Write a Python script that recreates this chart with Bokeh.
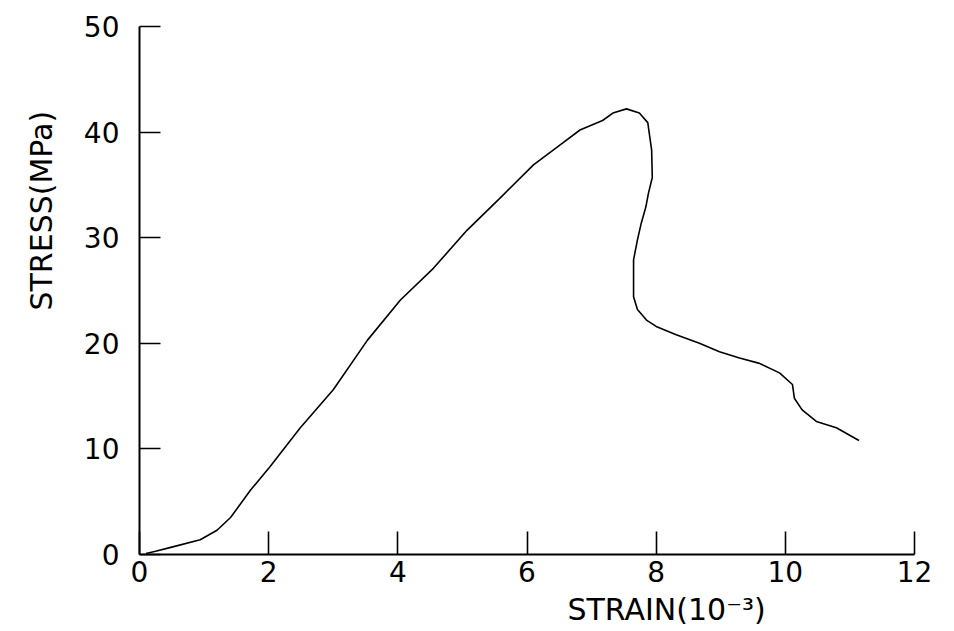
from bokeh.plotting import figure
from bokeh.models import Range1d, FixedTicker, Title
from bokeh.embed import file_html
from bokeh.resources import INLINE

strain = [0.1, 0.25, 0.5, 0.94, 1.2, 1.41, 1.72, 2.02, 2.49, 3.0, 3.53, 4.04, 4.55,
          5.07, 5.59, 6.1, 6.56, 6.82, 7.17, 7.33, 7.54, 7.74, 7.87, 7.93, 7.94, 7.88,
          7.84, 7.77, 7.71, 7.65, 7.65, 7.71, 7.85, 8.0, 8.31, 8.67, 8.98, 9.29, 9.6,
          9.91, 10.11, 10.14, 10.26, 10.48, 10.79, 11.14]
stress = [0.1, 0.3, 0.7, 1.4, 2.3, 3.5, 6.1, 8.3, 12.0, 15.6, 20.3, 24.1, 27.1,
          30.7, 33.8, 36.9, 39.0, 40.2, 41.1, 41.8, 42.2, 41.8, 40.9, 38.3, 35.7, 34.2,
          32.9, 31.4, 29.8, 27.9, 24.4, 23.2, 22.2, 21.6, 20.8, 20.0, 19.2, 18.6, 18.1,
          17.2, 16.1, 14.8, 13.7, 12.6, 12.0, 10.8]
x_ticks = [0, 2, 4, 6, 8, 10, 12]
y_ticks = [0, 10, 20, 30, 40, 50]
x_title = "STRAIN(10\u207b\u00b3)"
y_title = "STRESS(MPa)"

FONT = "DejaVu Sans"

p = figure(width=940, height=631, output_backend="svg", toolbar_location=None,
           x_range=Range1d(0, 12), y_range=Range1d(0, 50),
           min_border_left=139, min_border_top=26, min_border_right=26,
           min_border_bottom=76)
p.outline_line_color = None
p.xgrid.visible = False
p.ygrid.visible = False
p.background_fill_color = "white"
p.border_fill_color = "white"

p.line(strain, stress, line_color="black", line_width=1.6)

for ax, ticks, tin in ((p.xaxis, x_ticks, 23), (p.yaxis, y_ticks, 21)):
    ax.ticker = FixedTicker(ticks=ticks)
    ax.axis_line_width = 2
    ax.axis_line_color = "black"
    ax.major_tick_in = tin
    ax.major_tick_out = 0
    ax.major_tick_line_width = 1.6
    ax.major_tick_line_color = "black"
    ax.minor_tick_line_color = None
    ax.major_label_text_font = FONT
    ax.major_label_text_font_size = "28px"
    ax.major_label_text_color = "black"

p.xaxis.major_label_standoff = 6
p.yaxis.major_label_standoff = 20

p.add_layout(Title(text=x_title, align="left", offset=428, standoff=10,
                   text_font=FONT, text_font_size="30px", text_font_style="normal",
                   text_color="black"), "below")
p.add_layout(Title(text=y_title, align="left", offset=244, standoff=43,
                   text_font=FONT, text_font_size="30px", text_font_style="normal",
                   text_color="black"), "left")

open("out.html", "w").write(file_html(p, INLINE))
